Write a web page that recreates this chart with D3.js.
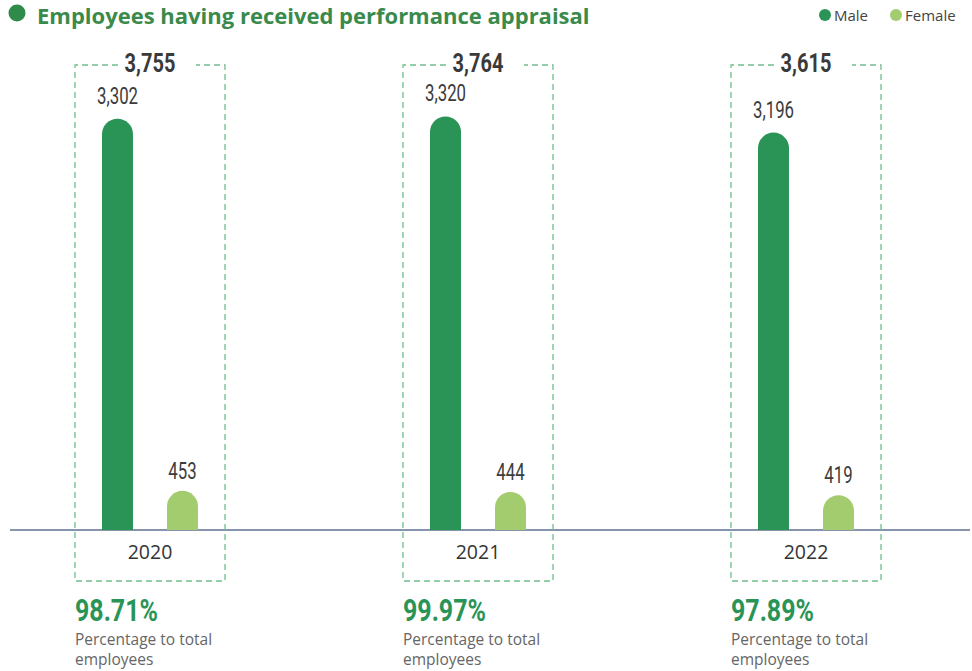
<!DOCTYPE html>
<html>
<head>
<meta charset="utf-8">
<script src="https://cdn.jsdelivr.net/npm/d3@7"></script>
<style>
  body { margin: 0; background: #fff; }
  .num { font-family: Roboto, "Liberation Sans", sans-serif; }
  .sans { font-family: "Open Sans", sans-serif; }
</style>
</head>
<body>
<div id="chart"></div>
<script>
const years = ["2020", "2021", "2022"];
const male = [3302, 3320, 3196];
const female = [453, 444, 419];
const totals = ["3,755", "3,764", "3,615"];
const percents = ["98.71%", "99.97%", "97.89%"];
const seriesNames = ["Male", "Female"];

const W = 972, H = 671;
const baseY = 530;
const maleColor = "#2a9457", femaleColor = "#a3cc6e";

const svg = d3.select("#chart").append("svg")
  .attr("width", W)
  .attr("height", H);

// groups are 328px apart, each box is 150px wide
const x = d3.scaleBand()
  .domain(years)
  .range([75, 881])
  .paddingInner(178 / 328)
  .paddingOuter(0);

const sub = d3.scaleBand()
  .domain(seriesNames)
  .range([27, 123])
  .paddingInner(34 / 65)
  .paddingOuter(0);

// value axis, zero sits a bit below the baseline in the original
const y = d3.scaleLinear()
  .domain([0, 3400])
  .range([550, 550 - 3400 * 0.1306]);

const fmt = d3.format(",");

// condensed look: squeeze the text horizontally
function condensed(sel, cx, cy, sx) {
  return sel.attr("transform", `translate(${cx},${cy}) scale(${sx},1)`);
}

// title
svg.append("circle").attr("cx", 17).attr("cy", 13).attr("r", 8.5).attr("fill", "#2e8b4a");
svg.append("text").attr("class", "sans")
  .attr("x", 37).attr("y", 23.5)
  .attr("font-size", 22).attr("font-weight", 700)
  .attr("fill", "#3a8a4c")
  .text("Employees having received performance appraisal");

// legend
const legend = svg.append("g");
[[seriesNames[0], maleColor, 825], [seriesNames[1], femaleColor, 896]].forEach(([name, c, lx]) => {
  legend.append("circle").attr("cx", lx).attr("cy", 15).attr("r", 6).attr("fill", c);
  legend.append("text").attr("class", "sans")
    .attr("x", lx + 9).attr("y", 20.5)
    .attr("font-size", 15).attr("fill", "#444")
    .text(name);
});

// axis line
svg.append("line")
  .attr("x1", 10).attr("x2", 970)
  .attr("y1", baseY).attr("y2", baseY)
  .attr("stroke", "#5f7291").attr("stroke-width", 1.3);

const groups = svg.selectAll("g.year")
  .data(years)
  .join("g")
  .attr("class", "year")
  .attr("transform", d => `translate(${x(d)},0)`);

const bw = x.bandwidth();

// dashed frame with a gap for the total
groups.append("path")
  .attr("d", `M43,65 H0 V581 H${bw} V65 H121`)
  .attr("fill", "none")
  .attr("stroke", "#6fbf8c")
  .attr("stroke-width", 1.3)
  .attr("stroke-dasharray", "6,4");

function barPath(x0, w, top) {
  const r = w / 2;
  return `M${x0},${baseY} V${top + r} A${r},${r} 0 0 1 ${x0 + w},${top + r} V${baseY} Z`;
}

const sbw = sub.bandwidth();

groups.append("path")
  .attr("fill", maleColor)
  .attr("d", (d, i) => barPath(sub("Male"), sbw, y(male[i])));

groups.append("path")
  .attr("fill", femaleColor)
  .attr("d", (d, i) => barPath(sub("Female"), sbw, y(female[i])));

// value labels
groups.each(function (d, i) {
  const g = d3.select(this);
  condensed(g.append("text").attr("class", "num"),
    sub("Male") + sbw / 2, y(male[i]) - 15, 0.7)
    .attr("text-anchor", "middle")
    .attr("font-size", 24).attr("fill", "#3c3c3c")
    .text(fmt(male[i]));

  condensed(g.append("text").attr("class", "num"),
    sub("Female") + sbw / 2, y(female[i]) - 12, 0.7)
    .attr("text-anchor", "middle")
    .attr("font-size", 24).attr("fill", "#3c3c3c")
    .text(fmt(female[i]));

  condensed(g.append("text").attr("class", "num"), bw / 2, 72, 0.8)
    .attr("text-anchor", "middle")
    .attr("font-size", 25).attr("font-weight", 700).attr("fill", "#3a3a3a")
    .text(totals[i]);

  condensed(g.append("text").attr("class", "num"), 0, 621, 0.78)
    .attr("font-size", 32).attr("font-weight", 700).attr("fill", "#2a9457")
    .text(percents[i]);
});

// year labels
groups.append("text").attr("class", "sans")
  .attr("x", bw / 2).attr("y", 559)
  .attr("text-anchor", "middle")
  .attr("font-size", 19.5).attr("fill", "#333")
  .text(d => d);

groups.append("text").attr("class", "sans")
  .attr("x", 0).attr("y", 645)
  .attr("font-size", 15.5).attr("fill", "#666")
  .text("Percentage to total");

groups.append("text").attr("class", "sans")
  .attr("x", 0).attr("y", 665)
  .attr("font-size", 15.5).attr("fill", "#666")
  .text("employees");
</script>
</body>
</html>
